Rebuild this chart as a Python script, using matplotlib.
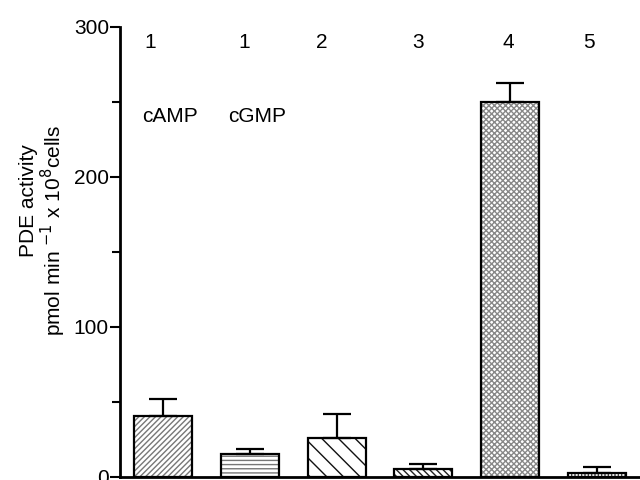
import numpy as np
import matplotlib.pyplot as plt
from matplotlib.ticker import MultipleLocator

plt.rcParams['font.family'] = ['Liberation Sans', 'DejaVu Sans']
plt.rcParams['hatch.linewidth'] = 1.0

# PDE activity per fraction
fractions = ['1', '1', '2', '3', '4', '5']
substrates = ['cAMP', 'cGMP']
activity = [41, 15.3, 26, 5.3, 250, 2.7]
sem = [11, 3.4, 16, 3.4, 13, 4]

hatches = ['//////', '----', '\\\\', '\\\\\\\\\\', 'xxxxxx', '|||||']
hatch_colors = ['#777777', '#777777', '#111111', '#222222', '#888888', '#444444']

# where the fraction numbers and substrate names sit
label_x = [-0.15, 0.93, 1.83, 2.94, 3.98, 4.91]
substrate_x = [0.08, 1.08]

fig = plt.figure(figsize=(6.4, 4.8), dpi=100)
ax = fig.add_axes([0.1875, 0.00625, 0.8125, 0.9375])

x = np.arange(len(activity))
width = 0.67

for i in range(len(x)):
    ax.bar(x[i], activity[i], width, color='white', edgecolor=hatch_colors[i],
           linewidth=0, hatch=hatches[i], zorder=2)
ax.bar(x, activity, width, fill=False, edgecolor='black', linewidth=1.6, zorder=3)
ax.errorbar(x, activity, yerr=[np.zeros(len(sem)), sem], fmt='none',
            ecolor='black', elinewidth=1.6, capsize=10, capthick=1.6, zorder=4)

for i, lab in enumerate(fractions):
    ax.text(label_x[i], 290, lab, fontsize=15, ha='center', va='center')
for i, s in enumerate(substrates):
    ax.text(substrate_x[i], 240, s, fontsize=15, ha='center', va='center')

ax.set_xlim(-0.5, 5.5)
ax.set_ylim(0, 300)
ax.set_xticks([])
ax.yaxis.set_major_locator(MultipleLocator(100))
ax.yaxis.set_minor_locator(MultipleLocator(50))
ax.tick_params(axis='y', which='major', length=7, width=1.5, labelsize=15, pad=1)
ax.tick_params(axis='y', which='minor', length=6, width=1.5)
ax.get_yticklabels()
for side in ['top', 'right']:
    ax.spines[side].set_visible(False)
for side in ['left', 'bottom']:
    ax.spines[side].set_linewidth(2)

# two-line y label, each line placed on its own
fig.text(29 / 640, 1 - 201 / 480, 'PDE activity', fontsize=15, rotation=90,
         ha='center', va='center')
fig.text(53 / 640, 1 - 230 / 480, 'pmol min $^{-1}$ x 10$^{8}$cells', fontsize=15,
         rotation=90, ha='center', va='center')

fig.savefig('out.png', dpi=100)
